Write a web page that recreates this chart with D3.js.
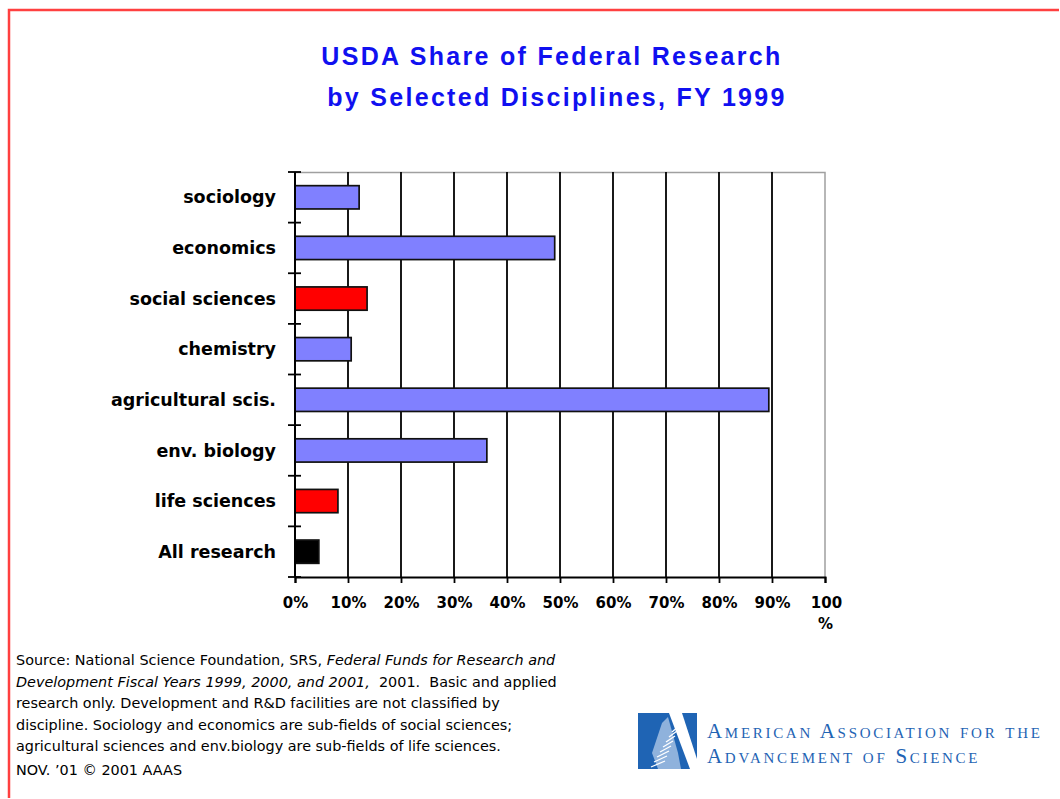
<!DOCTYPE html>
<html>
<head>
<meta charset="utf-8">
<script src="https://cdn.jsdelivr.net/npm/d3@7"></script>
<style>
  html, body { margin: 0; padding: 0; background: #fff; overflow: hidden; }
  svg { display: block; }
</style>
</head>
<body>
<svg id="chart" width="1060" height="799"></svg>
<script>

// data, top to bottom as in the picture
const disciplines = ['sociology', 'economics', 'social sciences', 'chemistry',
    'agricultural scis.', 'env. biology', 'life sciences', 'All research'];
const usdaShare = [12.1, 49.0, 13.6, 10.6, 89.4, 36.2, 8.1, 4.5];
const barKind = ['sub', 'sub', 'field', 'sub', 'sub', 'sub', 'field', 'all'];
const xTicks = [0, 10, 20, 30, 40, 50, 60, 70, 80, 90, 100];
const xTickLabels = ['0%', '10%', '20%', '30%', '40%', '50%', '60%', '70%', '80%', '90%', '100%'];

const titleLines = ['USDA Share of Federal Research', 'by Selected Disciplines, FY 1999'];
const noteLines = [
    [['Source: National Science Foundation, SRS, ', false], ['Federal Funds for Research and', true]],
    [['Development Fiscal Years 1999, 2000, and 2001,', true], ['\u00a0 2001.\u00a0 Basic and applied', false]],
    [['research only. Development and R&D facilities are not classified by', false]],
    [['discipline. Sociology and economics are sub-fields of social sciences;', false]],
    [['agricultural sciences and env.biology are sub-fields of life sciences.', false]],
    [['NOV. \u201901 \u00a9 2001 AAAS', false]]
];
const logoLines = ['American Association for the', 'Advancement of Science'];

const data = disciplines.map((d, i) => ({name: d, value: usdaShare[i], kind: barKind[i]}));
const colors = {sub: '#8080ff', field: '#ff0000', all: '#000000'};

const svg = d3.select('#chart');
const width = +svg.attr('width');
const height = +svg.attr('height');

const margin = {top: 172, right: 235, bottom: 222, left: 295};
const innerWidth = width - margin.left - margin.right;
const innerHeight = height - margin.top - margin.bottom;

// red frame at top and left
svg.append('path')
    .attr('d', 'M9,' + (height - 1) + ' V10 H' + (width - 1))
    .attr('fill', 'none')
    .attr('stroke', '#ff4040')
    .attr('stroke-width', 2.5);

// title
const title = svg.append('g')
    .attr('font-family', 'Liberation Sans, Arial, sans-serif')
    .attr('font-weight', 'bold')
    .attr('font-size', 25)
    .attr('fill', '#1010f0');

title.selectAll('text')
    .data(titleLines)
    .enter()
    .append('text')
    .attr('x', (d, i) => i === 0 ? 552 : 557)
    .attr('y', (d, i) => 65 + i * 41)
    .attr('text-anchor', 'middle')
    .style('letter-spacing', '2.3px')
    .text(d => d);

const xValue = d => d.value;
const yValue = d => d.name;

const xScale = d3.scaleLinear()
    .domain([0, 100])
    .range([0, innerWidth]);

const yScale = d3.scaleBand()
    .domain(data.map(yValue))
    .range([0, innerHeight])
    .paddingInner(0.54)
    .paddingOuter(0.27);

const g = svg.append('g')
    .attr('transform', 'translate(' + margin.left + ',' + margin.top + ')');

// grey frame top and right
g.append('path')
    .attr('d', 'M0,0.5 H' + innerWidth + ' V' + innerHeight)
    .attr('fill', 'none')
    .attr('stroke', '#a0a0a0')
    .attr('stroke-width', 1.5);

// vertical gridlines
g.selectAll('.grid')
    .data(xTicks.filter(t => t > 0 && t < 100))
    .enter()
    .append('line')
    .attr('class', 'grid')
    .attr('x1', d => xScale(d))
    .attr('x2', d => xScale(d))
    .attr('y1', 0)
    .attr('y2', innerHeight)
    .attr('stroke', '#000')
    .attr('stroke-width', 1.8);

// bars
g.selectAll('rect')
    .data(data)
    .enter()
    .append('rect')
    .attr('x', 0)
    .attr('y', d => yScale(yValue(d)))
    .attr('width', d => xScale(xValue(d)))
    .attr('height', yScale.bandwidth())
    .attr('fill', d => colors[d.kind])
    .attr('stroke', '#111')
    .attr('stroke-width', 1.7);

// y axis: ticks sit on band borders, labels centred on bands
const step = yScale.step();
const yEdges = d3.range(disciplines.length + 1).map(i => i * step);

g.append('line')
    .attr('x1', 0).attr('x2', 0)
    .attr('y1', 0).attr('y2', innerHeight)
    .attr('stroke', '#000').attr('stroke-width', 2);

g.selectAll('.ytick')
    .data(yEdges)
    .enter()
    .append('line')
    .attr('class', 'ytick')
    .attr('x1', -7).attr('x2', 6)
    .attr('y1', d => d).attr('y2', d => d)
    .attr('stroke', '#000').attr('stroke-width', 1.8);

g.selectAll('.ylabel')
    .data(data)
    .enter()
    .append('text')
    .attr('class', 'ylabel')
    .attr('x', -19)
    .attr('y', d => yScale(yValue(d)) + yScale.bandwidth() / 2)
    .attr('dy', '0.35em')
    .attr('text-anchor', 'end')
    .attr('font-family', 'DejaVu Sans, sans-serif')
    .attr('font-weight', 'bold')
    .attr('font-size', 17.5)
    .attr('fill', '#000')
    .text(yValue);

// x axis
const xAxis = d3.axisBottom(xScale)
    .tickValues(xTicks)
    .tickSize(6)
    .tickFormat((d, i) => xTickLabels[i]);

const xAxisG = g.append('g')
    .attr('transform', 'translate(0,' + innerHeight + ')')
    .call(xAxis);

xAxisG.select('.domain').attr('stroke-width', 2);
xAxisG.selectAll('.tick line').attr('stroke-width', 1.8);
xAxisG.selectAll('.tick text')
    .attr('font-family', 'DejaVu Sans, sans-serif')
    .attr('font-weight', 'bold')
    .attr('font-size', 15)
    .attr('fill', '#000')
    .attr('y', 20)
    .attr('dy', '0.71em');

// the last label does not fit and wraps its % sign onto a second line
xAxisG.selectAll('.tick text')
    .filter((d, i) => i === xTicks.length - 1)
    .each(function () {
        const t = d3.select(this);
        const label = t.text();
        t.text(null);
        t.append('tspan').attr('x', 1).text(label.slice(0, -1));
        t.append('tspan').attr('x', 0).attr('dy', '1.45em').text(label.slice(-1));
    });

// source note
const note = svg.append('g')
    .attr('font-family', 'DejaVu Sans, sans-serif')
    .attr('font-size', 14.4)
    .attr('fill', '#000');

note.selectAll('text')
    .data(noteLines)
    .enter()
    .append('text')
    .attr('x', 16)
    .attr('y', (d, i) => 665 + i * 21.6 + (i === 5 ? 2 : 0))
    .each(function (parts) {
        const t = d3.select(this);
        parts.forEach(p => {
            t.append('tspan')
                .attr('font-style', p[1] ? 'italic' : 'normal')
                .text(p[0]);
        });
    });

// AAAS logo mark and name
const logo = svg.append('g').attr('transform', 'translate(638,713)');
logo.append('rect')
    .attr('width', 59).attr('height', 56)
    .attr('fill', '#1f64b4');
logo.append('path')
    .attr('d', 'M31,0 H44 L59,46 V56 H52 Z')
    .attr('fill', '#fff');
logo.append('path')
    .attr('d', 'M24,10 L30,4 L35,22 L40,40 L43,56 H20 L14,40 Z')
    .attr('fill', '#8fb2dc');
logo.selectAll('.hatch')
    .data(d3.range(8))
    .enter()
    .append('line')
    .attr('x1', d => 13 + d * 3)
    .attr('x2', d => 27 + d * 2)
    .attr('y1', d => 54 - d * 5)
    .attr('y2', d => 48 - d * 5)
    .attr('stroke', '#ffffff')
    .attr('stroke-width', 1.3);

svg.append('g')
    .attr('font-family', 'Liberation Serif, Times New Roman, serif')
    .attr('font-size', 21)
    .attr('fill', '#1f64b4')
    .selectAll('text')
    .data(logoLines)
    .enter()
    .append('text')
    .attr('x', 707)
    .attr('y', (d, i) => 738 + i * 25)
    .style('font-variant', 'small-caps')
    .style('letter-spacing', '2.7px')
    .text(d => d);

</script>
</body>
</html>
